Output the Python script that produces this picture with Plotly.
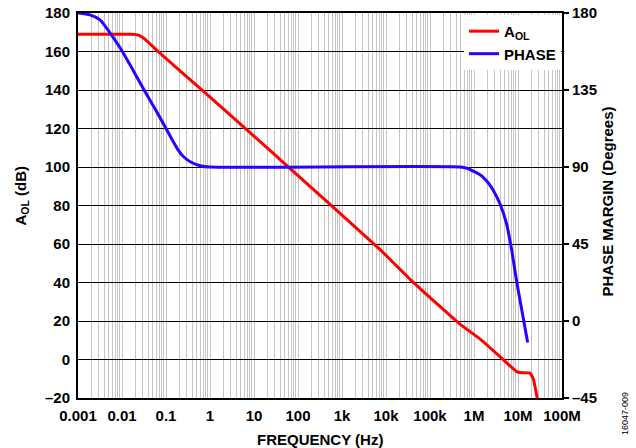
import plotly.graph_objects as go

# ---- data ----
aol_freq = [0.001, 0.0158, 0.0195, 0.0251, 0.0355, 0.0501, 0.0661, 0.692, 12.3, 58.9,
            7244, 41700, 479000, 1.38e6, 3.89e6, 7.08e6, 9.33e6, 11.2e6, 18.6e6, 22.4e6, 27.5e6]
aol_db = [169, 169, 168.9, 168.2, 165.8, 162.6, 160, 139.5, 114.2, 100.2,
          57.2, 40.1, 18.4, 10.6, 1.5, -4.0, -6.3, -6.8, -7.0, -10.3, -20.5]

phase_freq = [0.001, 0.00187, 0.00316, 0.00537, 0.0089, 0.0158, 0.0302, 0.0562, 0.0933,
              0.141, 0.186, 0.251, 0.372, 0.631, 1.0,
              479000, 708000, 955000, 1.26e6, 1.62e6, 2.14e6, 2.75e6, 3.89e6, 5.5e6,
              7.24e6, 9.33e6, 16.6e6]
phase_deg = [180, 178.9, 176, 168.3, 160, 149, 136, 124, 114,
             105.5, 100.2, 96, 92.8, 90.6, 90,
             90, 89.2, 87.6, 86, 84, 80.5, 76.3, 68.5, 56.8,
             41, 23, -12.6]

x_decades = [0.001, 0.01, 0.1, 1, 10, 100, 1e3, 1e4, 1e5, 1e6, 1e7, 1e8]
x_labels = ["0.001", "0.01", "0.1", "1", "10", "100", "1k", "10k", "100k", "1M", "10M", "100M"]
y_left_vals = [-20, 0, 20, 40, 60, 80, 100, 120, 140, 160, 180]
y_left_labels = ["–20", "0", "20", "40", "60", "80", "100", "120", "140", "160", "180"]
y_right_vals = [-45, 0, 45, 90, 135, 180]
y_right_labels = ["–45", "0", "45", "90", "135", "180"]

# grid positions (1..9 per decade)
grid_vals, grid_text = [], []
for i, d in enumerate(x_decades):
    grid_vals.append(d)
    grid_text.append(x_labels[i])
    if i < len(x_decades) - 1:
        for m in range(2, 10):
            grid_vals.append(d * m)
            grid_text.append(" ")

FONT = "Liberation Sans, Arial, sans-serif"

fig = go.Figure()
fig.add_trace(go.Scatter(x=aol_freq, y=aol_db, mode="lines", name="A<sub>OL</sub>",
                         line=dict(color="#ff0000", width=3, shape="spline", smoothing=0.4)))
fig.add_trace(go.Scatter(x=phase_freq, y=phase_deg, mode="lines", name="PHASE",
                         line=dict(color="#2a00ff", width=3, shape="spline", smoothing=0.6),
                         yaxis="y2"))

fig.update_layout(
    width=636, height=448,
    margin=dict(l=78, r=74, t=13, b=50, autoexpand=False),
    paper_bgcolor="white", plot_bgcolor="white",
    font=dict(family=FONT, size=15, color="black", weight="bold"),
    showlegend=True,
    legend=dict(x=0.998, y=0.995, xanchor="right", yanchor="top",
                bgcolor="white", borderwidth=0,
                font=dict(family=FONT, size=15, weight="bold"),
                tracegroupgap=0, itemwidth=30),
    xaxis=dict(type="log", range=[-3, 8], tickvals=grid_vals, ticktext=grid_text,
               tickangle=0,
               showgrid=True, gridcolor="#c4c4c4", gridwidth=1.3,
               showline=True, linecolor="black", linewidth=2, mirror=True,
               ticks="", ticklabelstandoff=3, zeroline=False),
    yaxis=dict(range=[-20, 180], tickvals=y_left_vals, ticktext=y_left_labels,
               showgrid=True, gridcolor="black", gridwidth=1,
               showline=True, linecolor="black", linewidth=2,
               ticks="", zeroline=False, ticklabelstandoff=3),
    yaxis2=dict(range=[-45, 180], tickvals=y_right_vals, ticktext=y_right_labels,
                overlaying="y", side="right", showgrid=False,
                showline=True, linecolor="black", linewidth=2,
                ticks="outside", ticklen=5, tickwidth=1.5, tickcolor="black",
                zeroline=False),
)

fig.add_annotation(text="FREQUENCY (Hz)", xref="paper", yref="paper", x=0.5, y=0,
                   yanchor="middle", yshift=-41, showarrow=False,
                   font=dict(family=FONT, size=15, weight="bold"))
fig.add_annotation(text="A<sub>OL</sub> (dB)", xref="paper", yref="paper", x=0, y=0.5,
                   xanchor="center", xshift=-57, yshift=10, textangle=-90, showarrow=False,
                   font=dict(family=FONT, size=15, weight="bold"))
fig.add_annotation(text="PHASE MARGIN (Degrees)", xref="paper", yref="paper", x=1, y=0.5,
                   xanchor="center", xshift=45, yshift=4, textangle=-90, showarrow=False,
                   font=dict(family=FONT, size=15, weight="bold"))
fig.add_annotation(text="16047-009", xref="paper", yref="paper", x=1, y=0,
                   xanchor="center", yanchor="middle", xshift=63, yshift=-16,
                   textangle=-90, showarrow=False,
                   font=dict(family=FONT, size=9, weight="normal"))

fig.write_html("out.html", config={"displayModeBar": False},
               post_script="document.body.style.margin='0px';document.body.style.overflow='hidden';")
